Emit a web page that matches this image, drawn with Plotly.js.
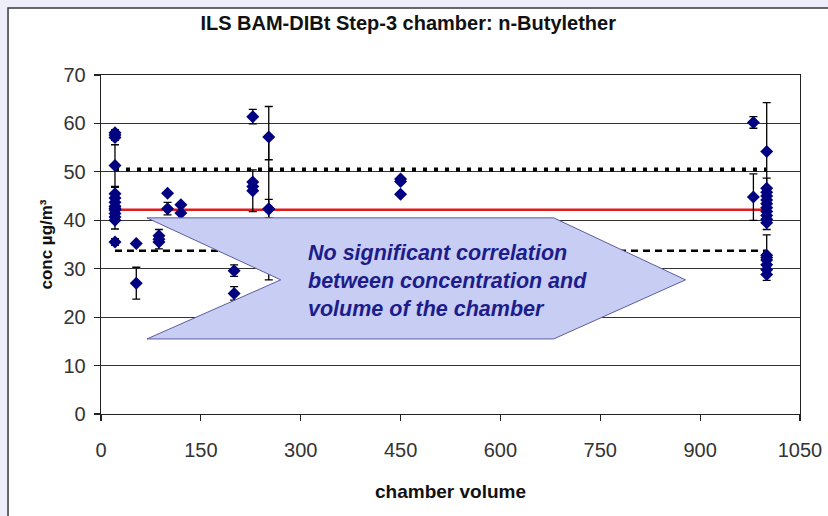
<!DOCTYPE html>
<html>
<head>
<meta charset="utf-8">
<script src="https://cdn.plot.ly/plotly-3.0.1.min.js"></script>
<style>
  html, body { margin: 0; padding: 0; background: #eeeefa; }
  #chart { width: 828px; height: 516px; }
</style>
</head>
<body>
<div id="chart"></div>
<script>
// ---- data ----
const chartTitle = "ILS BAM-DIBt Step-3 chamber: n-Butylether";
const xAxisTitle = "chamber volume";
const yAxisTitle = "conc µg/m³";

const volumes = [
  21, 21, 21, 21, 21, 21, 21, 21, 21, 21, 21, 21, 21, 21,
  53, 53,
  87, 87, 87,
  100, 100,
  120, 120,
  200, 200,
  228, 228, 228, 228,
  252, 252, 252,
  450, 450, 450,
  980, 980,
  1000, 1000, 1000, 1000, 1000, 1000, 1000, 1000, 1000, 1000, 1000,
  1000, 1000, 1000, 1000, 1000, 1000
];
const concentrations = [
  57.6, 58.1, 57.1, 51.3, 45.5, 44.6, 43.7, 42.9, 42.5, 42.1, 41.4, 40.7, 40.0, 35.5,
  35.2, 27.0,
  36.8, 36.1, 35.5,
  45.6, 42.4,
  43.2, 41.5,
  29.6, 24.9,
  61.4, 47.9, 47.0, 46.1,
  57.2, 42.3, 42.4,
  48.5, 48.0, 45.4,
  60.2, 44.8,
  54.2, 46.6, 45.8, 45.0, 44.2, 43.4, 42.6, 41.8, 41.0, 40.2, 39.5,
  32.8, 32.3, 31.8, 30.8, 29.8, 28.8
];
const errPlus = [
  1.1, 0, 0, 4.3, 0, 0, 0, 0, 4.3, 0, 0, 0, 0, 0.7,
  0, 3.3,
  0, 2.0, 0,
  0, 1.3,
  0, 0,
  1.2, 1.4,
  1.5, 0, 0, 4.3,
  6.3, 14.6, 1.9,
  0, 0, 0,
  1.2, 4.8,
  10.1, 0, 0, 0, 0, 5.3, 0, 0, 0, 0, 0,
  0, 4.7, 0, 0, 0, 0
];
const errMinus = [
  1.1, 0, 0, 4.3, 0, 0, 0, 0, 4.3, 0, 0, 0, 0, 0.7,
  0, 3.3,
  0, 2.0, 0,
  0, 1.3,
  0, 0,
  1.2, 1.4,
  1.5, 0, 0, 4.3,
  4.7, 14.6, 1.9,
  0, 0, 0,
  1.2, 4.8,
  10.1, 0, 0, 0, 0, 5.3, 0, 0, 0, 0, 0,
  0, 4.7, 0, 0, 0, 0
];

const lineSpan = [21, 1000];          // x extent of the reference lines
const meanValue = 42.2;               // red line
const upperLimit = 50.5;              // dotted line
const lowerLimit = 33.7;              // dashed line

const noteText = "No significant correlation<br>between concentration and<br>volume of the chamber";

// ---- traces ----
const traces = [
  {
    x: lineSpan, y: [upperLimit, upperLimit], mode: "lines", type: "scatter",
    line: { color: "#000000", width: 4, dash: "4px,7px" }, hoverinfo: "skip", showlegend: false
  },
  {
    x: lineSpan, y: [lowerLimit, lowerLimit], mode: "lines", type: "scatter",
    line: { color: "#000000", width: 2.5, dash: "7px,5px" }, hoverinfo: "skip", showlegend: false
  },
  {
    x: lineSpan, y: [meanValue, meanValue], mode: "lines", type: "scatter",
    line: { color: "#e01c1c", width: 2.5 }, hoverinfo: "skip", showlegend: false
  },
  {
    x: volumes, y: concentrations, mode: "markers", type: "scatter",
    marker: { symbol: "diamond", size: 10, color: "#000080" },
    error_y: {
      type: "data", symmetric: false, array: errPlus, arrayminus: errMinus,
      color: "#000000", thickness: 1.3, width: 4, visible: true
    },
    showlegend: false
  }
];

// ---- arrow call-out (data coordinates) ----
const ax = { x0: 69, xNotch: 270, x1: 680, xTip: 878 };
const ay = { top: 40.5, mid: 27.7, bottom: 15.5 };
const arrowPath = "M " + ax.x0 + "," + ay.top +
  " L " + ax.xNotch + "," + ay.mid +
  " L " + ax.x0 + "," + ay.bottom +
  " L " + ax.x1 + "," + ay.bottom +
  " L " + ax.xTip + "," + ay.mid +
  " L " + ax.x1 + "," + ay.top + " Z";

const layout = {
  width: 828, height: 516,
  paper_bgcolor: "#eeeefa",
  plot_bgcolor: "#ffffff",
  margin: { l: 101, r: 28, t: 75, b: 102 },
  font: { family: "Liberation Sans, Arial, sans-serif", color: "#333333" },
  title: {
    text: "<b>" + chartTitle + "</b>",
    font: { size: 20, color: "#111111", family: "Liberation Sans, Arial, sans-serif" },
    x: 0.493, xanchor: "center", y: 0.955, yanchor: "middle"
  },
  xaxis: {
    range: [0, 1050], tick0: 0, dtick: 150, tickmode: "linear",
    showgrid: false, zeroline: false,
    showline: true, linecolor: "#222222", linewidth: 1.3, mirror: true,
    ticks: "outside", ticklen: 6, tickcolor: "#222222", tickwidth: 1.2,
    ticklabelstandoff: 12,
    tickfont: { size: 20, color: "#333333" },
    title: { text: "<b>" + xAxisTitle + "</b>", font: { size: 19, color: "#111111" }, standoff: 24 },
    fixedrange: true
  },
  yaxis: {
    range: [0, 70], tick0: 0, dtick: 10, tickmode: "linear",
    showgrid: true, gridcolor: "#333333", gridwidth: 1.2, zeroline: false,
    showline: true, linecolor: "#222222", linewidth: 1.3, mirror: true,
    ticks: "outside", ticklen: 6, tickcolor: "#222222", tickwidth: 1.2,
    ticklabelstandoff: 4,
    tickfont: { size: 20, color: "#333333" },
    title: { text: "<b>" + yAxisTitle + "</b>", font: { size: 17, color: "#111111" }, standoff: 6 },
    fixedrange: true
  },
  shapes: [
    {
      type: "rect", xref: "paper", yref: "paper", layer: "below",
      x0: -0.133, x1: 1.1, y0: -0.4, y1: 1.198,
      fillcolor: "#ffffff", line: { color: "#3a3a3a", width: 1.5 }
    },
    {
      type: "path", xref: "x", yref: "y", layer: "above",
      path: arrowPath,
      fillcolor: "#c8cdf3", line: { color: "#5c5ca0", width: 1 }
    }
  ],
  annotations: [
    {
      xref: "x", yref: "y", x: 308, y: 27.5, xanchor: "left", yanchor: "middle",
      align: "left", showarrow: false,
      text: "<b><i>" + noteText + "</i></b>",
      font: { size: 21.5, color: "#1c1c8c", family: "Liberation Sans, Arial, sans-serif" }
    }
  ]
};

Plotly.newPlot("chart", traces, layout, { displayModeBar: false, staticPlot: true });
</script>
</body>
</html>
